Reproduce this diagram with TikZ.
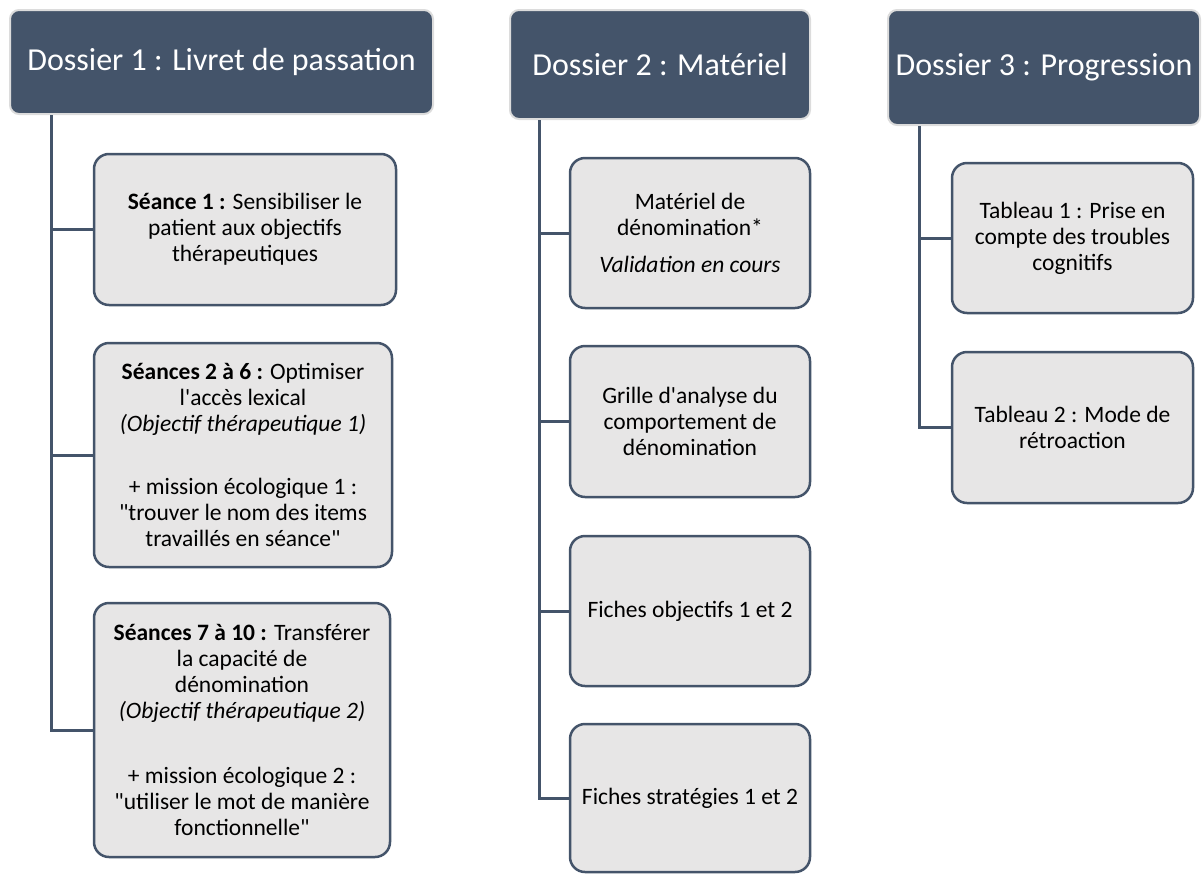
\documentclass[tikz,border=0pt]{standalone}
\usepackage{fontspec}
\setmainfont{Carlito}[Ligatures=TeXOff]
\definecolor{slate}{HTML}{44546A}
\definecolor{boxfill}{HTML}{E7E6E6}
\definecolor{rim}{HTML}{DCDCDC}
\tikzset{
  folder/.style={rectangle, rounded corners=9pt, fill=slate, draw=rim, line width=2pt,
    text=white, font=\fontsize{32}{38}\selectfont, inner sep=0pt},
  item/.style={rectangle, rounded corners=15pt, fill=boxfill, draw=slate, line width=2.5pt,
    text=black, align=center, font=\fontsize{23.5}{26}\selectfont, inner sep=0pt},
  conn/.style={draw=slate, line width=3pt}
}
\begin{document}
\begin{tikzpicture}[x=1pt,y=-1pt]
\useasboundingbox (0,0) rectangle (1202,873);

% Dossier 1
\node[folder, minimum width=423pt, minimum height=104pt] (h1) at (221.5,62) {Dossier 1 : Livret de passation};
\node[item, minimum width=302pt, minimum height=151pt] (a1) at (245,229.5)
  {\textbf{Séance 1 :} Sensibiliser le\\patient aux objectifs\\thérapeutiques};
\node[item, minimum width=298pt, minimum height=224pt] (a2) at (243,455)
  {\textbf{Séances 2 à 6 :} Optimiser\\l'accès lexical\\\textit{(Objectif thérapeutique 1)}\\[37pt]
   + mission écologique 1 :\\"trouver le nom des items\\travaillés en séance"};
\node[item, minimum width=296pt, minimum height=254pt] (a3) at (242,730)
  {\textbf{Séances 7 à 10 :} Transférer\\la capacité de\\dénomination\\\textit{(Objectif thérapeutique 2)}\\[39pt]
   + mission écologique 2 :\\"utiliser le mot de manière\\fonctionnelle"};

% Dossier 2
\node[folder, minimum width=300pt, minimum height=109pt] (h2) at (660,64.5) {Dossier 2 : Matériel};
\node[item, minimum width=240pt, minimum height=150pt] (b1) at (690,233)
  {Matériel de\\dénomination*\\[11pt]\textit{Validation en cours}};
\node[item, minimum width=240pt, minimum height=151pt] (b2) at (690,421.5)
  {Grille d'analyse du\\comportement de\\dénomination};
\node[item, minimum width=240pt, minimum height=150pt] (b3) at (690,611)
  {Fiches objectifs 1 et 2};
\node[item, minimum width=240pt, minimum height=148pt] (b4) at (690,798)
  {Fiches stratégies 1 et 2};

% Dossier 3
\node[folder, minimum width=312pt, minimum height=115pt] (h3) at (1044,67.5) {Dossier 3 : Progression};
\node[item, minimum width=241pt, minimum height=150pt] (c1) at (1072.5,238)
  {Tableau 1 : Prise en\\compte des troubles\\cognitifs};
\node[item, minimum width=241pt, minimum height=151pt] (c2) at (1072.5,427.5)
  {Tableau 2 : Mode de\\rétroaction};

% connectors from each folder down its trunk to its items
\begin{scope}[on background layer/.try]
\foreach \n in {a1,a2,a3}
  \draw[conn] ([xshift=42pt]h1.south west) |- (\n.west);
\foreach \n in {b1,b2,b3,b4}
  \draw[conn] ([xshift=30pt]h2.south west) |- (\n.west);
\foreach \n in {c1,c2}
  \draw[conn] ([xshift=32pt]h3.south west) |- (\n.west);
\end{scope}
\end{tikzpicture}
\end{document}
